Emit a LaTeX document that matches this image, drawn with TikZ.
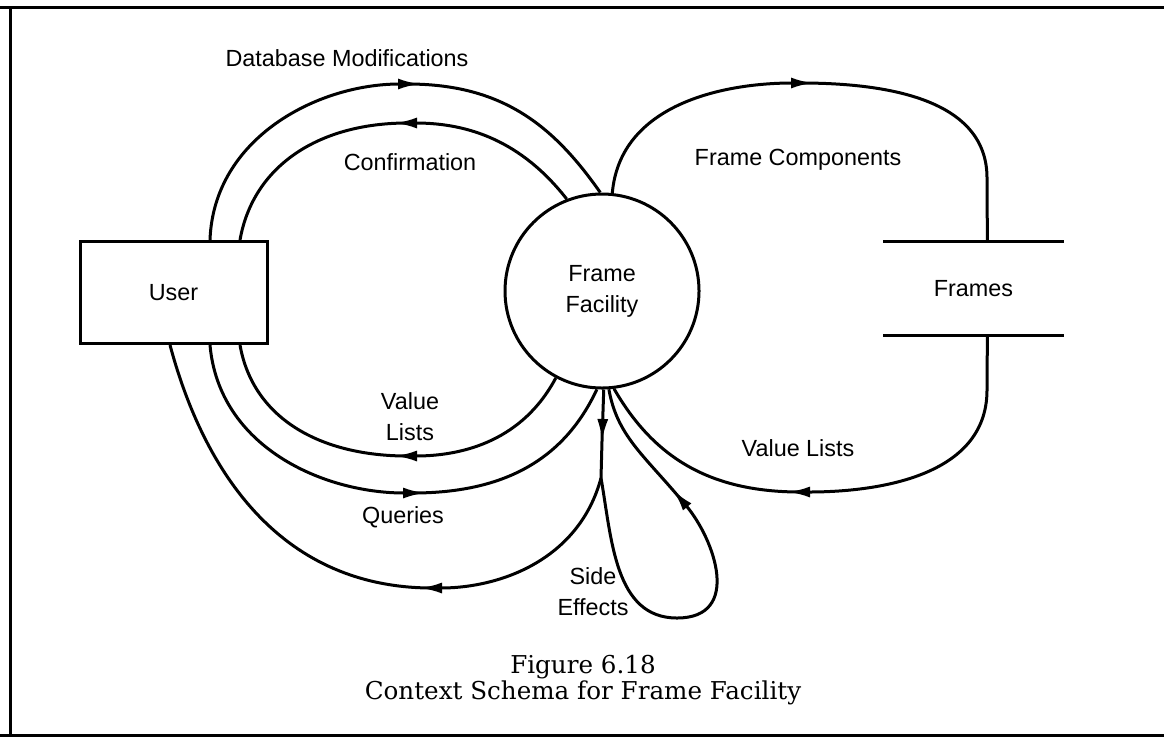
\documentclass[tikz,border=0pt]{standalone}
\usepackage{fontspec}
\setmainfont{Liberation Sans}
\newfontfamily\captionfont{DejaVu Serif}
\usetikzlibrary{positioning}
\usetikzlibrary{arrows.meta}

\begin{document}
\begin{tikzpicture}[
		x=0.2mm, y=0.2mm,
		every node/.style={font=\fontsize{13.3}{17.5}\selectfont},
		entity/.style={rectangle, draw, line width=0.6mm, minimum width=37.4mm, minimum height=20.4mm},
		process/.style={circle, draw, line width=0.6mm, minimum size=38.8mm, inner sep=0pt, align=center},
		store/.style={rectangle, minimum width=36mm, minimum height=18.6mm},
		flow/.style={line width=0.6mm},
		cont/.style={flow, shorten <=-2.5mm},
		arrow/.style={flow, -{Latex[length=4.4mm, width=2.2mm]}},
		lbl/.style={align=center}
		]
		
		% Page frame
		\useasboundingbox (0,0) rectangle (1164,-738);
		\draw[flow] (0,-7) -- (1164,-7);
		\draw[flow] (10,-7) -- (10,-735);
		\draw[flow] (0,-735) -- (1164,-735);
		
		% Entities
		\node[entity] (user) at (173.5,-292.5) {User};
		\node[process, right=47mm of user, yshift=0.3mm] (ff) {Frame\\Facility};
		\node[store, right=36.5mm of ff, yshift=0.5mm] (frames) {Frames};
		\draw[flow] (frames.north west) -- (frames.north east) (frames.south west) -- (frames.south east);
		
		% Arc points
		\coordinate (dbtop) at (420,-84);
		\coordinate (conftop) at (395,-123);
		\coordinate (fctop) at (813,-83);
		\coordinate (fcbend) at (987,-178);
		\coordinate (vlbend) at (987,-390);
		\coordinate (vlright) at (788,-492);
		\coordinate (vlleft) at (395,-456);
		\coordinate (qtip) at (425,-493);
		\coordinate (sidedown) at (602,-441);
		\coordinate (split) at (601,-478);
		\coordinate (otip) at (420,-588);
		\coordinate (loopbot) at (677,-618);
		\coordinate (looptip) at (673,-490);
		
		% Database Modifications and Confirmation
		\draw[arrow] ([xshift=7.3mm]user.north) to[out=88, in=180] (dbtop);
		\draw[cont] (dbtop) to[out=0, in=125] (ff.91);
		\draw[arrow] (ff.111) to[out=128, in=0] (conftop);
		\draw[cont] (conftop) to[out=180, in=80] ([xshift=13.3mm]user.north);
		
		% Frame Components
		\draw[arrow] (ff.84) to[out=85, in=180] (fctop);
		\draw[cont] (fctop) to[out=0, in=90] (fcbend) -- ([xshift=2.8mm]frames.north);
		
		% Value Lists from Frames
		\draw[flow] ([xshift=2.8mm]frames.south) -- (vlbend);
		\draw[arrow] (vlbend) to[out=-90, in=0] (vlright);
		\draw[cont] (vlright) to[out=180, in=-60] (ff.-83);
		
		% Value Lists and Queries
		\draw[arrow] (ff.-118) to[out=-118, in=0] (vlleft);
		\draw[cont] (vlleft) to[out=180, in=-80] ([xshift=13.3mm]user.south);
		\draw[arrow] ([xshift=7.3mm]user.south) to[out=-85, in=180] (qtip);
		\draw[cont] (qtip) to[out=0, in=-115] (ff.-93);
		
		% Side Effects
		\draw[arrow] (ff.-89) -- (sidedown);
		\draw[cont] (sidedown) -- (split);
		\draw[arrow] (split) to[out=-105, in=0] (otip);
		\draw[cont] (otip) to[out=180, in=-75] ([xshift=-0.7mm]user.south);
		\draw[flow] (split) to[out=-80, in=180] (loopbot);
		\draw[arrow] (loopbot) to[out=0, in=-50, looseness=1.3] (looptip);
		\draw[cont] (looptip) to[out=130, in=-80] (ff.-86);
		
		% Labels
		\node[lbl] (dblabel) at (347,-58) {Database Modifications};
		\node[lbl] (conflabel) at (410,-162) {Confirmation};
		\node[lbl] (fclabel) at (798,-160) {Frame Components};
		\node[lbl] (vlrlabel) at (798,-448) {Value Lists};
		\node[lbl] (vlllabel) at (410,-417) {Value\\Lists};
		\node[lbl] (qlabel) at (403,-517) {Queries};
		\node[lbl] (selabel) at (593,-592) {Side\\Effects};
		\node[font=\captionfont\fontsize{14}{12}\selectfont, align=center] (caption) at (583,-680) {Figure 6.18\\Context Schema for Frame Facility};
		
	\end{tikzpicture}
\end{document}
